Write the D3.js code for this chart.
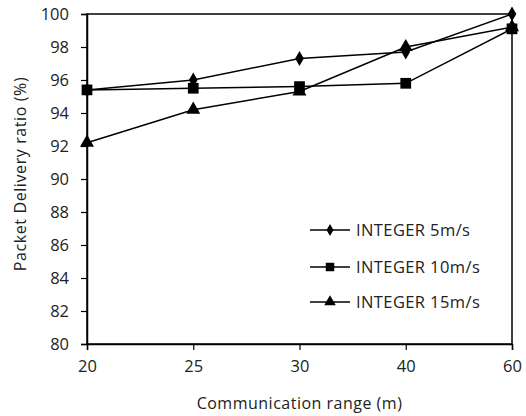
<!DOCTYPE html>
<html><head><meta charset="utf-8">
<script src="https://cdn.jsdelivr.net/npm/d3@7/dist/d3.min.js"></script>
<style>body{margin:0;background:#fff}svg{display:block}text{font-family:"Open Sans",sans-serif;fill:#222}</style>
</head><body><svg id="c" width="526" height="416"></svg>
<script>
const categories = ["20","25","30","40","60"];
const seriesNames = ["INTEGER 5m/s","INTEGER 10m/s","INTEGER 15m/s"];
const s5 = [95.4, 96.0, 97.3, 97.7, 100.0];
const s10 = [95.4, 95.5, 95.6, 95.8, 99.1];
const s15 = [92.2, 94.2, 95.3, 98.0, 99.2];
const yTicks = [80,82,84,86,88,90,92,94,96,98,100];
const markers = ["diamond","square","triangle"];

const series = [s5, s10, s15];
const svg = d3.select("#c");
const L=87,R=512,T=14,B=344;
const x = d3.scalePoint().domain(categories).range([L,R]).padding(0);
const y = d3.scaleLinear().domain([80,100]).range([B,T]);

svg.append("rect").attr("x",L).attr("y",T).attr("width",R-L).attr("height",B-T)
  .attr("fill","none").attr("stroke","#000").attr("stroke-width",1.5);

const ya = svg.append("g").attr("transform",`translate(${L},0)`)
  .call(d3.axisLeft(y).tickValues(yTicks).tickSize(6).tickPadding(12));
const xa = svg.append("g").attr("transform",`translate(0,${B})`)
  .call(d3.axisBottom(x).tickSize(6).tickPadding(10));
[ya,xa].forEach(g=>{
  g.select(".domain").attr("stroke","#000").attr("stroke-width",1.5);
  g.selectAll(".tick line").attr("stroke","#000").attr("stroke-width",1.2);
  g.selectAll("text").style("font-family","'Open Sans',sans-serif").style("font-size","16.5px").attr("fill","#222");
});

const symType = {diamond:d3.symbolDiamond,square:d3.symbolSquare,triangle:d3.symbolTriangle};
const plotSize = {diamond:65,square:115,triangle:85};
const legSize = {diamond:42,square:72,triangle:58};
const line = d3.line().x((d,i)=>x(categories[i])).y(d=>y(d));
series.forEach(s=>{
  svg.append("path").datum(s).attr("d",line).attr("fill","none").attr("stroke","#000").attr("stroke-width",1.5);
});
series.forEach((s,k)=>{
  svg.selectAll(null).data(s).enter().append("path")
    .attr("d",d3.symbol().type(symType[markers[k]]).size(plotSize[markers[k]]))
    .attr("transform",(d,i)=>`translate(${x(categories[i])},${y(d)})`)
    .attr("fill","#000");
});

const legY = [230,267,302];
seriesNames.forEach((n,k)=>{
  const g = svg.append("g").attr("transform",`translate(310,${legY[k]})`);
  g.append("line").attr("x1",0).attr("x2",40).attr("stroke","#000").attr("stroke-width",1.5);
  g.append("path").attr("d",d3.symbol().type(symType[markers[k]]).size(legSize[markers[k]])())
    .attr("transform","translate(20,0)");
  g.append("text").attr("x",46).attr("dy","0.36em").style("font-size","16.5px").style("letter-spacing","0.4px").text(n);
});

svg.append("text").attr("x",(L+R)/2).attr("y",409).attr("text-anchor","middle").style("font-size","16px").style("letter-spacing","0.5px").text("Communication range (m)");
svg.append("text").attr("transform",`translate(20,174) rotate(-90)`).attr("text-anchor","middle").attr("dy","0.35em").style("font-size","16px").style("letter-spacing","0.6px").text("Packet Delivery ratio (%)");
</script></body></html>
